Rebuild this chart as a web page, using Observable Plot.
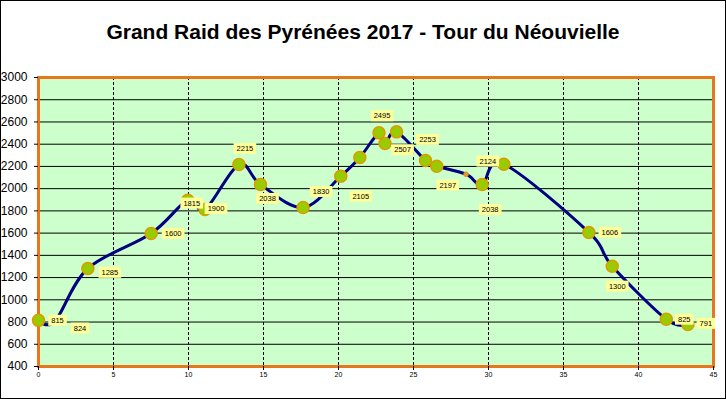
<!DOCTYPE html>
<html>
<head>
<meta charset="utf-8">
<script src="https://cdn.jsdelivr.net/npm/d3@7"></script>
<script src="https://cdn.jsdelivr.net/npm/@observablehq/plot@0.6"></script>
<style>
  body { margin: 0; background: #fff; }
  #chart { position: relative; width: 724px; height: 397px; border: 1px solid #000; background: #fff; overflow: hidden; }
  #title { height: 55px; box-sizing: border-box; padding-top: 20px; text-align: center;
           font: bold 21px/21px "Liberation Sans", Arial, sans-serif; color: #000; }
  svg { display: block; }
</style>
</head>
<body>
<div id="chart"><div id="title">Grand Raid des Pyrénées 2017 - Tour du Néouvielle</div></div>
<script>
// ---- data ----
const km        = [0, 1.1, 3.29, 7.51, 9.95, 11.1, 13.36, 14.8, 17.64, 20.15, 21.42, 22.7, 23.1, 23.87, 25.8, 26.55, 28.5, 29.58, 31.02, 36.69, 38.25, 41.85, 43.29];
const elevation = [815, 808, 1282, 1597, 1896, 1812, 2217, 2037, 1830, 2112, 2280, 2502, 2406, 2511, 2253, 2202, 2130, 2037, 2220, 1606, 1302, 825, 778];
const labels    = ["815", "824", "1285", "1600", "1815", "1900", "2215", "2038", "1830", "2105", "", "2495", "", "2507", "2253", "2197", "", "2038", "2124", "1606", "1300", "825", "791"];
const xTicks = [0, 5, 10, 15, 20, 25, 30, 35, 40, 45];
const yTicks = [400, 600, 800, 1000, 1200, 1400, 1600, 1800, 2000, 2200, 2400, 2600, 2800, 3000];

// ---- layout (label offsets in px, marker styles by index) ----
const labelOffsets = [[19,0],[25,7],[22,4],[22,0],[4,3],[11,-1],[6,-16],[7,14],[18,-16],[20,20],null,[3,-17],null,[6,18],[2,-21],[11,19],null,[8,25],[-16,-3],[21,0],[5,20],[18,0],[18,-1]];
const smallMarkers = [16];
const noMarkers = [1];

const points = km.map((k, i) => ({km: k, elev: elevation[i], label: labels[i], i}));
const bigPts = points.filter(d => !smallMarkers.includes(d.i) && !noMarkers.includes(d.i));
const smallPts = points.filter(d => smallMarkers.includes(d.i));
const font = '"Liberation Sans", Arial, sans-serif';

const labelMarks = points.filter(d => d.label !== "").map(d =>
  Plot.text([d], {x: "km", y: "elev", text: "label", dx: labelOffsets[d.i][0], dy: labelOffsets[d.i][1],
    fontSize: 7.5, fill: "#000", fontFamily: font}));

const plot = Plot.plot({
  width: 724, height: 342,
  marginLeft: 37, marginRight: 12, marginTop: 21, marginBottom: 32,
  style: {fontFamily: font, background: "transparent", overflow: "visible"},
  x: {domain: [0, 45], ticks: xTicks, label: null},
  y: {domain: [400, 3000], ticks: yTicks, label: null},
  marks: [
    Plot.frame({fill: "#CCFFCC", stroke: "none"}),
    Plot.ruleY(yTicks.slice(1, -1), {stroke: "#000", strokeWidth: 1}),
    Plot.ruleX(xTicks.slice(1, -1), {stroke: "#000", strokeWidth: 1, strokeDasharray: "3,2"}),
    Plot.frame({stroke: "#E8761C", strokeWidth: 3}),
    Plot.axisY({ticks: yTicks, tickSize: 4, tickPadding: 7, fontSize: 12, label: null, tickFormat: d => String(d)}),
    Plot.axisX({ticks: xTicks, tickSize: 4, tickPadding: 2, fontSize: 7, label: null,
      fontFamily: '"Liberation Sans Narrow", "Liberation Sans", Arial, sans-serif'}),
    Plot.line(points, {x: "km", y: "elev", curve: d3.curveCardinal.tension(0), stroke: "#000080", strokeWidth: 3}),
    Plot.dot(bigPts, {x: "km", y: "elev", r: 6, fill: "#99CC00", stroke: "#DD9A00", strokeWidth: 1.5}),
    Plot.dot(smallPts, {x: "km", y: "elev", r: 2.5, fill: "#E09A30", stroke: "#CC8800", strokeWidth: 0.5}),
    ...labelMarks
  ]
});
document.getElementById("chart").appendChild(plot);

// yellow boxes behind data labels
plot.querySelectorAll('g[aria-label="text"] text').forEach(t => {
  const b = t.getBBox();
  const r = document.createElementNS("http://www.w3.org/2000/svg", "rect");
  r.setAttribute("x", b.x - 3);
  r.setAttribute("y", b.y - 1);
  r.setAttribute("width", b.width + 6);
  r.setAttribute("height", b.height + 2);
  r.setAttribute("fill", "#FFFF99");
  const tr = t.getAttribute("transform");
  if (tr) r.setAttribute("transform", tr);
  t.parentNode.insertBefore(r, t);
});
</script>
</body>
</html>
